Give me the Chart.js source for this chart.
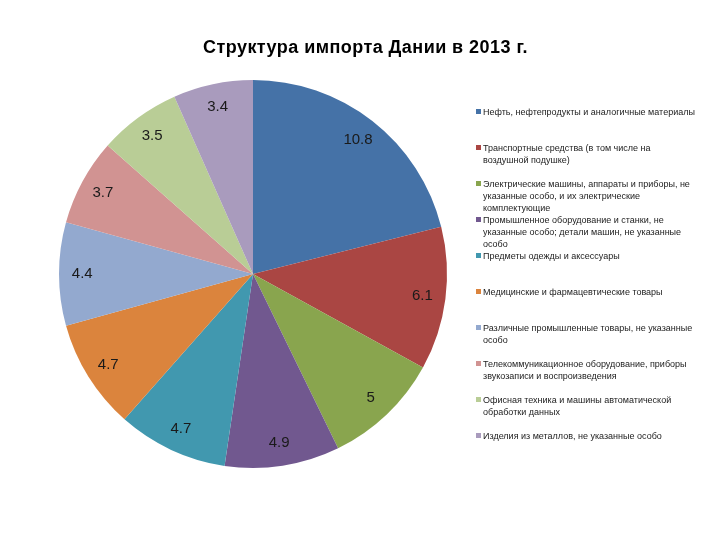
<!DOCTYPE html>
<html><head><meta charset="utf-8">
<script src="https://cdn.jsdelivr.net/npm/chart.js@4/dist/chart.umd.min.js"></script>
<style>
html,body{margin:0;padding:0;background:#fff;}
#wrap{position:relative;width:720px;height:540px;}
#title{position:absolute;left:0;width:731px;top:37px;text-align:center;font:bold 18px 'Liberation Sans',Arial,sans-serif;letter-spacing:0.45px;color:#000;}
#legend{position:absolute;left:476px;top:0;width:244px;font:9px 'Liberation Sans',Arial,sans-serif;color:#222;}
.li{position:absolute;left:0;line-height:12px;}
.sw{position:absolute;left:0;top:3px;width:5px;height:5px;}
.tx{position:absolute;left:7px;top:0;white-space:nowrap;}
</style></head>
<body><div id="wrap"><canvas id="c" width="720" height="540"></canvas>
<div id="title">Структура импорта Дании в 2013 г.</div>
<div id="legend"></div></div>
<script>
const categories = [
 ["Нефть, нефтепродукты и аналогичные материалы"],
 ["Транспортные средства (в том числе на","воздушной подушке)"],
 ["Электрические машины, аппараты и приборы, не","указанные особо, и их электрические","комплектующие"],
 ["Промышленное оборудование и станки, не","указанные особо; детали машин, не указанные","особо"],
 ["Предметы одежды и аксессуары"],
 ["Медицинские и фармацевтические товары"],
 ["Различные промышленные товары, не указанные","особо"],
 ["Телекоммуникационное оборудование, приборы","звукозаписи и воспроизведения"],
 ["Офисная техника и машины автоматической","обработки данных"],
 ["Изделия из металлов, не указанные особо"]
];
const values = [10.8, 6.1, 5, 4.9, 4.7, 4.7, 4.4, 3.7, 3.5, 3.4];
const colors = ["#4572A7","#AA4643","#89A54E","#71588F","#4198AF","#DB843D","#93A9CF","#D19392","#B9CD96","#A99BBD"];

const labelPlugin = {
  id:'sliceLabels',
  afterDatasetsDraw(chart){
    const ctx = chart.ctx;
    const meta = chart.getDatasetMeta(0);
    ctx.save();
    ctx.font = "15px 'Liberation Sans Narrow','Liberation Sans',Arial,sans-serif";
    ctx.fillStyle = '#1a1a1a';
    ctx.textAlign='center'; ctx.textBaseline='middle';
    meta.data.forEach((arc,i)=>{
      const p = arc.getProps(['x','y','startAngle','endAngle','outerRadius'],true);
      const a = (p.startAngle+p.endAngle)/2;
      const r = p.outerRadius*0.88;
      ctx.fillText(String(chart.data.datasets[0].data[i]), p.x+Math.cos(a)*r, p.y+Math.sin(a)*r);
    });
    ctx.restore();
  }
};

const chart = new Chart(document.getElementById('c'), {
  type:'pie',
  data:{labels:categories.map(l=>l.join(' ')), datasets:[{data:values, backgroundColor:colors, borderWidth:0}]},
  options:{
    responsive:false, animation:false,
    layout:{padding:{left:59,right:273,top:80,bottom:72}},
    plugins:{legend:{display:false}, tooltip:{enabled:false}}
  },
  plugins:[labelPlugin]
});

const lg = document.getElementById('legend');
categories.forEach((lines,i)=>{
  const d = document.createElement('div'); d.className='li'; d.style.top=(106+i*36)+'px';
  const s = document.createElement('div'); s.className='sw'; s.style.background=colors[i];
  const t = document.createElement('div'); t.className='tx'; t.innerHTML = lines.join('<br>');
  d.appendChild(s); d.appendChild(t); lg.appendChild(d);
});
</script></body></html>
